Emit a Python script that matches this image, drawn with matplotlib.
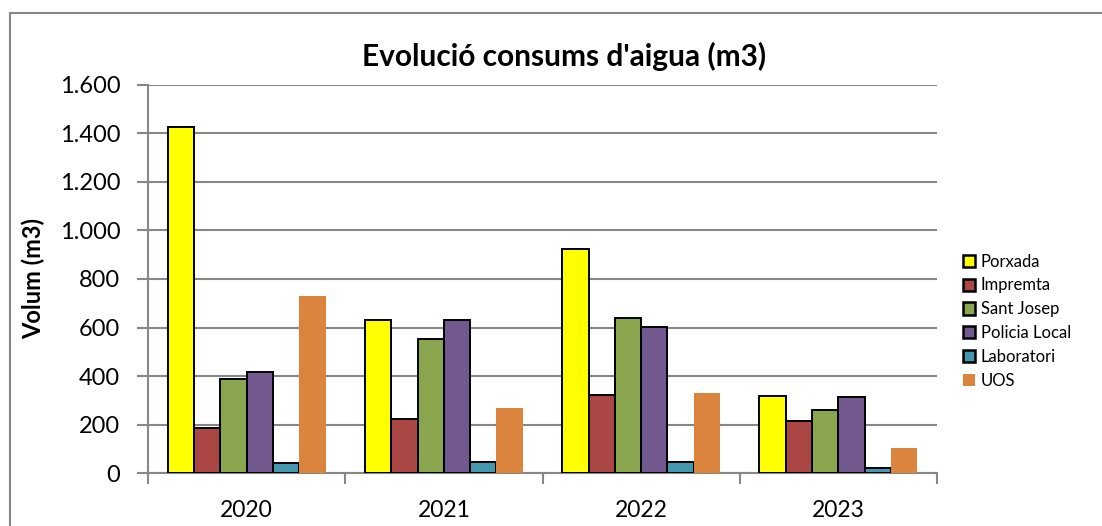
import matplotlib
matplotlib.use("Agg")
import matplotlib.pyplot as plt
import numpy as np
from matplotlib.patches import Rectangle
from matplotlib.ticker import FuncFormatter, FixedLocator

years = ["2020", "2021", "2022", "2023"]
series_names = ["Porxada", "Impremta", "Sant Josep", "Policia Local", "Laboratori", "UOS"]
porxada = [1425, 632, 921, 320]
impremta = [186, 224, 324, 216]
sant_josep = [388, 553, 640, 261]
policia_local = [418, 629, 603, 312]
laboratori = [41, 45, 45, 21]
uos = [731, 268, 330, 103]
colors = ["#FFFF00", "#AA4643", "#89A54E", "#71588F", "#4198AF", "#DB843D"]
edges = ["black", "black", "black", "black", "black", "none"]

plt.rcParams['font.family'] = ['Lato', 'DejaVu Sans']

W, H = 1102, 526
fig = plt.figure(figsize=(W/100, H/100), dpi=100)

# outer chart border
fig.patches.append(Rectangle((10/W, -0.05), 1.2, (H-13)/H + 0.05, transform=fig.transFigure,
                             fill=False, edgecolor="#868686", linewidth=1.5))

left, right, top, bottom = 148, 937, 84.5, 473.3
ax = fig.add_axes([left/W, 1-bottom/H, (right-left)/W, (bottom-top)/H])

data = [porxada, impremta, sant_josep, policia_local, laboratori, uos]
x = np.arange(len(years))
bw = 0.8/6
for i, (vals, c, e) in enumerate(zip(data, colors, edges)):
    ax.bar(x - 0.4 + bw*(i+0.5), vals, width=bw, color=c, edgecolor=e,
           linewidth=1.4 if e != "none" else 0, label=series_names[i], zorder=3)

ax.set_xlim(-0.5, 3.5)
ax.set_ylim(0, 1600)
ax.yaxis.set_major_locator(FixedLocator(np.arange(0, 1601, 200)))
ax.yaxis.set_major_formatter(FuncFormatter(lambda v, p: f"{int(v):,}".replace(",", ".")))
ax.grid(axis="y", color="#878787", linewidth=1.5, zorder=0)
ax.set_axisbelow(True)

ax.set_xticks(x)
ax.set_xticklabels(years, fontsize=16.5)
ax.set_xticks(np.arange(-0.5, 3.6, 1), minor=True)
ax.tick_params(axis="x", which="major", length=0, pad=19)
ax.tick_params(axis="x", which="minor", length=8, width=1.5, color="#878787", direction="out")
ax.tick_params(axis="y", length=8, width=1.5, color="#878787", labelsize=17, pad=12)

for s in ["top", "right"]:
    ax.spines[s].set_visible(False)
for s in ["left", "bottom"]:
    ax.spines[s].set_color("#878787")
    ax.spines[s].set_linewidth(1.5)

ax.set_ylabel("Volum (m3)", fontsize=17, fontweight="bold")
ax.yaxis.set_label_coords((45-left)/(right-left), 0.5)
fig.text(564/W, 1-56/H, "Evolució consums d'aigua (m3)", fontsize=21.5, fontweight="bold",
         ha="center", va="center")

leg = fig.legend(loc="upper left", bbox_to_anchor=(956/W, 1-247/H), frameon=False,
                 fontsize=12, handlelength=0.75, handleheight=0.75, handletextpad=0.35,
                 labelspacing=0.47, borderaxespad=0)
for p in leg.get_patches():
    p.set_linewidth(1.8)

fig.savefig("out.png", dpi=100)
